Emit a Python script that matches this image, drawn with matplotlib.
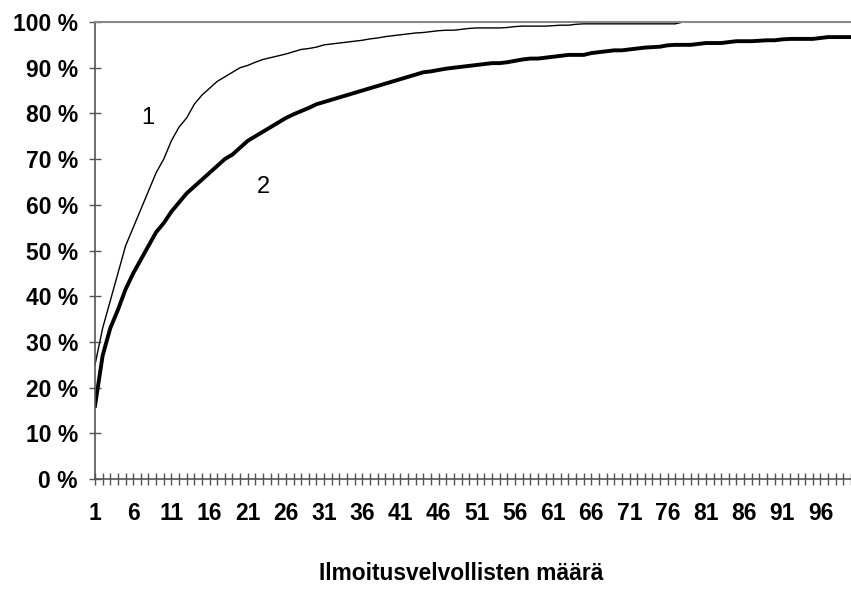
import numpy as np
import matplotlib
matplotlib.use("Agg")
import matplotlib.pyplot as plt
from matplotlib.ticker import FixedLocator, FuncFormatter

plt.rcParams["font.family"] = ["Liberation Sans", "DejaVu Sans"]

# ilmoitusvelvollisten määrä 1..100
kategoriat = list(range(1, 101))

# käyrä 1 (ohut), kumulatiivinen osuus %
kayra1 = [25, 33, 39, 45, 51, 55, 59, 63, 67, 70,
          74, 77, 79, 82, 84, 85.5, 87, 88, 89, 90,
          90.5, 91.2, 91.8, 92.2, 92.6, 93, 93.5, 94, 94.2, 94.5,
          95, 95.2, 95.4, 95.6, 95.8, 96, 96.3, 96.5, 96.8, 97,
          97.2, 97.4, 97.6, 97.7, 97.9, 98.1, 98.2, 98.2, 98.4, 98.6,
          98.7, 98.7, 98.7, 98.7, 98.8, 99.0, 99.1, 99.1, 99.1, 99.1,
          99.2, 99.3, 99.3, 99.5, 99.6, 99.6, 99.6, 99.6, 99.6, 99.6,
          99.6, 99.6, 99.6, 99.6, 99.6, 99.6, 99.6, 100, 100, 100,
          100, 100, 100, 100, 100, 100, 100, 100, 100, 100,
          100, 100, 100, 100, 100, 100, 100, 100, 100, 100]

# käyrä 2 (paksu)
kayra2 = [16, 27, 33, 37, 41.5, 45, 48, 51, 54, 56,
          58.5, 60.5, 62.5, 64, 65.5, 67, 68.5, 70, 71, 72.5,
          74, 75, 76, 77, 78, 79, 79.8, 80.5, 81.2, 82,
          82.5, 83, 83.5, 84, 84.5, 85, 85.5, 86, 86.5, 87,
          87.5, 88, 88.5, 89, 89.2, 89.5, 89.8, 90, 90.2, 90.4,
          90.6, 90.8, 91, 91, 91.2, 91.5, 91.8, 92, 92, 92.2,
          92.4, 92.6, 92.8, 92.8, 92.8, 93.2, 93.4, 93.6, 93.8, 93.8,
          94, 94.2, 94.4, 94.5, 94.6, 94.9, 95, 95, 95, 95.2,
          95.4, 95.4, 95.4, 95.6, 95.8, 95.8, 95.8, 95.9, 96, 96,
          96.2, 96.3, 96.3, 96.3, 96.3, 96.5, 96.7, 96.7, 96.7, 96.7]

x_labels = kategoriat[::5]          # 1, 6, 11, ..., 96
y_ticks = list(range(0, 101, 10))

fig = plt.figure(figsize=(8.51, 6.05), dpi=100)
ax = fig.add_axes([95 / 851, 1 - 479 / 605, (851 - 95) / 851, (479 - 22) / 605])

ax.plot(kategoriat, kayra1, color="black", lw=1.0)
ax.plot(kategoriat, kayra2, color="black", lw=2.8, solid_joinstyle="round")

ax.set_xlim(1, 100)
ax.set_ylim(0, 100)

ax.xaxis.set_major_locator(FixedLocator(kategoriat))
ax.xaxis.set_major_formatter(FuncFormatter(lambda v, p: str(int(v)) if int(v) in x_labels else ""))
ax.yaxis.set_major_locator(FixedLocator(y_ticks))
ax.yaxis.set_major_formatter(FuncFormatter(lambda v, p: f"{int(v)} %"))

for lab in ax.get_xticklabels() + ax.get_yticklabels():
    lab.set_fontweight("bold")
ax.tick_params(axis="x", direction="inout", length=8.5, width=1.0, color="#555555",
               labelsize=16.5, pad=12)
ax.tick_params(axis="y", direction="inout", length=8.5, width=1.0, color="#555555",
               labelsize=16.5, pad=8)

ax.spines["right"].set_visible(False)
ax.spines["top"].set_color("#888888")
ax.spines["top"].set_linewidth(1.5)
for s in ("left", "bottom"):
    ax.spines[s].set_color("#555555")
    ax.spines[s].set_linewidth(1.2)

ax.text(7.9, 79, "1", fontsize=17, ha="center", va="center")
ax.text(23, 64, "2", fontsize=17, ha="center", va="center")

fig.text(461 / 851, 1 - 574 / 605, "Ilmoitusvelvollisten määrä", fontsize=16.4,
         fontweight="bold", ha="center", va="center")

fig.savefig("out.png", dpi=100)
